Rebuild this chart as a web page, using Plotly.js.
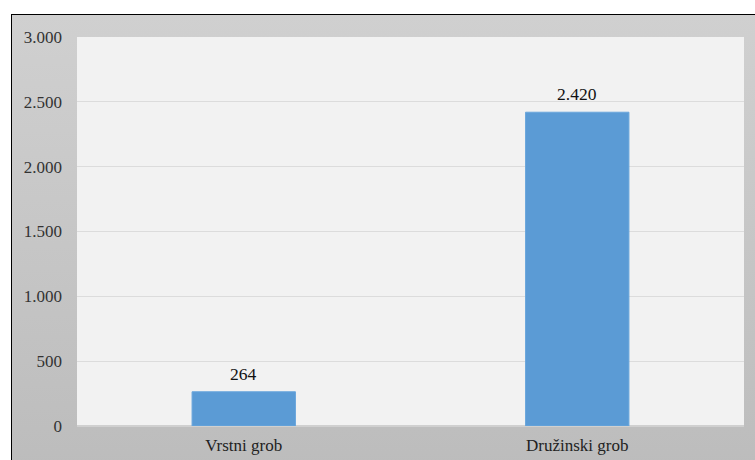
<!DOCTYPE html>
<html>
<head>
<meta charset="utf-8">
<script src="https://cdn.plot.ly/plotly-3.0.1.min.js"></script>
<style>
  html, body { margin: 0; padding: 0; background: #ffffff; overflow: hidden; }
  #frame { position: absolute; left: 11px; top: 14px; width: 760px; height: 460px;
           border-left: 1.5px solid #000; border-top: 1.5px solid #000;
           background: linear-gradient(to bottom, #d0d0d0 0%, #c6c6c6 50%, #bcbcbc 100%); }
  #chart { position: absolute; left: 0; top: 0; width: 755px; height: 460px; }
</style>
</head>
<body>
<div id="frame"></div>
<div id="chart"></div>
<script>
const categories = ["Vrstni grob", "Družinski grob"];
const values = [264, 2420];
const tickValues = [0, 500, 1000, 1500, 2000, 2500, 3000];

const fontFam = 'Liberation Serif, Times New Roman, serif';

const trace = {
  type: 'bar',
  x: categories,
  y: values,
  width: 0.31,
  marker: { color: '#5b9bd5', line: { color: '#6aa6dc', width: 1 } },
  hoverinfo: 'skip'
};

const annotations = categories.map((c, i) => ({
  x: c, y: values[i], xref: 'x', yref: 'y',
  text: values[i].toString().replace(/\B(?=(\d{3})+(?!\d))/g, '.'),
  showarrow: false, yanchor: 'bottom', yshift: 6,
  font: { family: fontFam, size: 17.5, color: '#111111' }
}));

const layout = {
  width: 755, height: 460,
  margin: { l: 77, r: 11, t: 37, b: 34, pad: 0 },
  paper_bgcolor: 'rgba(0,0,0,0)',
  plot_bgcolor: '#f2f2f2',
  separators: ',.',
  showlegend: false,
  font: { family: fontFam, size: 17, color: '#333333' },
  xaxis: {
    type: 'category',
    showgrid: false, zeroline: false, showline: false,
    ticks: 'outside', ticklen: 4, tickcolor: 'rgba(0,0,0,0)',
    tickfont: { family: fontFam, size: 17, color: '#222222' },
    fixedrange: true
  },
  yaxis: {
    range: [0, 3000],
    tickvals: tickValues,
    tickformat: ',d',
    showgrid: true, gridcolor: '#dcdcdc', gridwidth: 1,
    zeroline: true, zerolinecolor: '#d0d0d0', zerolinewidth: 1.5,
    showline: false, ticks: '', ticklabelstandoff: 14,
    tickfont: { family: fontFam, size: 17, color: '#333333' },
    fixedrange: true
  },
  annotations: annotations
};

Plotly.newPlot('chart', [trace], layout, { displayModeBar: false, staticPlot: true });
</script>
</body>
</html>
